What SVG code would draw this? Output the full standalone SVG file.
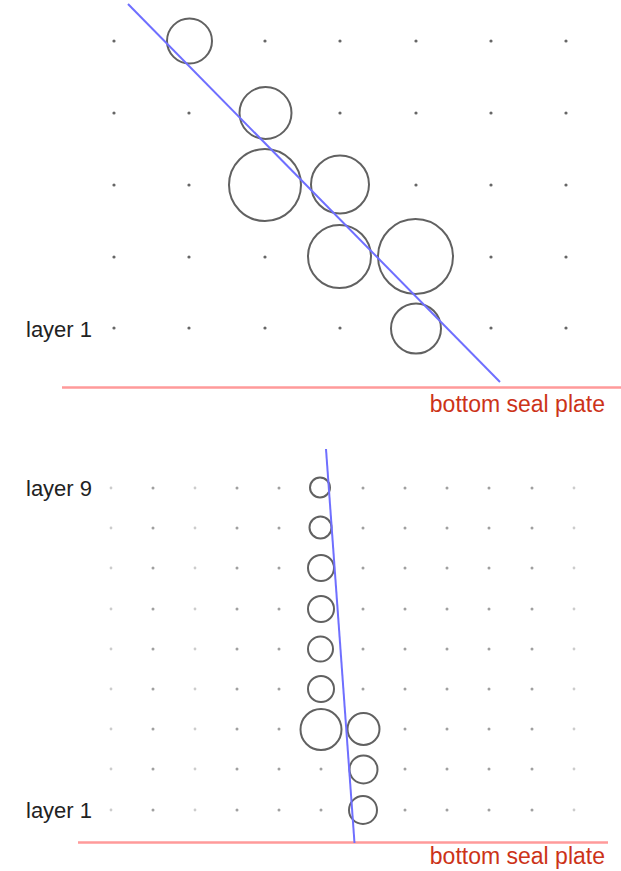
<svg xmlns="http://www.w3.org/2000/svg" width="621" height="871" viewBox="0 0 621 871">
<style>
  .bg { fill: #ffffff; }
  .dot { fill: #666666; }
  .dot2 { fill: #a0a0a0; }
  .dot3 { fill: #cccccc; }
  .ball { fill: #ffffff; stroke: #616161; stroke-width: 2; }
  .axis { stroke: #6f6fff; stroke-width: 2; fill: none; }
  .plate { stroke: #ff9a9a; stroke-width: 2.5; fill: none; }
  .lbl { font-family: "Liberation Sans", Arial, sans-serif; font-size: 22px; fill: #222222; }
  .plbl { font-family: "Liberation Sans", Arial, sans-serif; font-size: 23px; fill: #cc3318; text-anchor: end; }
</style>
<defs>
  <g id="row7">
    <circle class="dot" cx="114" cy="0" r="1.6"/>
    <circle class="dot" cx="189" cy="0" r="1.6"/>
    <circle class="dot" cx="265" cy="0" r="1.6"/>
    <circle class="dot" cx="340" cy="0" r="1.6"/>
    <circle class="dot" cx="416" cy="0" r="1.6"/>
    <circle class="dot" cx="491" cy="0" r="1.6"/>
    <circle class="dot" cx="566" cy="0" r="1.6"/>
  </g>
  <g id="row12">
    <circle class="dot3" cx="111" cy="0" r="1.4"/>
    <circle class="dot2" cx="153" cy="0" r="1.5"/>
    <circle class="dot3" cx="195" cy="0" r="1.4"/>
    <circle class="dot2" cx="237" cy="0" r="1.5"/>
    <circle class="dot2" cx="279" cy="0" r="1.5"/>
    <circle class="dot2" cx="321" cy="0" r="1.5"/>
    <circle class="dot2" cx="363" cy="0" r="1.5"/>
    <circle class="dot2" cx="405" cy="0" r="1.5"/>
    <circle class="dot2" cx="447" cy="0" r="1.5"/>
    <circle class="dot2" cx="489" cy="0" r="1.5"/>
    <circle class="dot2" cx="532" cy="0" r="1.5"/>
    <circle class="dot3" cx="574" cy="0" r="1.4"/>
  </g>
</defs>
<rect class="bg" x="0" y="0" width="621" height="871"/>

<!-- Top diagram -->
<g id="top-grid">
  <use href="#row7" y="41"/>
  <use href="#row7" y="113"/>
  <use href="#row7" y="185"/>
  <use href="#row7" y="257"/>
  <use href="#row7" y="328"/>
</g>
<g id="top-balls">
  <circle id="t1" class="ball" cx="189.5" cy="41" r="22.5"/>
  <circle id="t2" class="ball" cx="265.5" cy="113" r="26"/>
  <circle id="t3" class="ball" cx="265" cy="185" r="36"/>
  <circle id="t4" class="ball" cx="340" cy="184.5" r="29"/>
  <circle id="t5" class="ball" cx="339.5" cy="256.5" r="31.5"/>
  <circle id="t6" class="ball" cx="415.5" cy="256.5" r="37.5"/>
  <circle id="t7" class="ball" cx="416" cy="328.5" r="25"/>
</g>
<g id="top-plate">
  <line class="plate" x1="62" y1="387.5" x2="621" y2="387.5"/>
  <text class="plbl" x="605" y="412">bottom seal plate</text>
</g>
<g id="top-label">
  <text class="lbl" x="26" y="337">layer 1</text>
</g>

<!-- Bottom diagram -->
<g id="bottom-grid">
  <use href="#row12" y="488"/>
  <use href="#row12" y="528"/>
  <use href="#row12" y="568"/>
  <use href="#row12" y="609"/>
  <use href="#row12" y="649"/>
  <use href="#row12" y="689"/>
  <use href="#row12" y="729"/>
  <use href="#row12" y="769"/>
  <use href="#row12" y="810"/>
</g>
<g id="bottom-balls">
  <circle id="b1" class="ball" cx="320" cy="487.5" r="10"/>
  <circle id="b2" class="ball" cx="320.5" cy="527.5" r="11"/>
  <circle id="b3" class="ball" cx="321" cy="568" r="13"/>
  <circle id="b4" class="ball" cx="321" cy="609" r="13"/>
  <circle id="b5" class="ball" cx="320.5" cy="649" r="12.5"/>
  <circle id="b6" class="ball" cx="321" cy="689" r="13"/>
  <circle id="b7" class="ball" cx="321" cy="729.5" r="20.5"/>
  <circle id="b8" class="ball" cx="363.5" cy="729" r="16"/>
  <circle id="b9" class="ball" cx="363.5" cy="769.5" r="14"/>
  <circle id="b10" class="ball" cx="363" cy="810" r="14"/>
</g>
<g id="bottom-plate">
  <line class="plate" x1="78" y1="842.5" x2="608" y2="842.5"/>
  <text class="plbl" x="605" y="864">bottom seal plate</text>
</g>
<g id="bottom-labels">
  <text class="lbl" x="26" y="496">layer 9</text>
  <text class="lbl" x="26" y="818">layer 1</text>
</g>

<g id="connectors">
  <line class="axis" x1="128" y1="4" x2="500" y2="382"/>
  <line class="axis" x1="326" y1="449" x2="354.5" y2="843"/>
</g>
</svg>
